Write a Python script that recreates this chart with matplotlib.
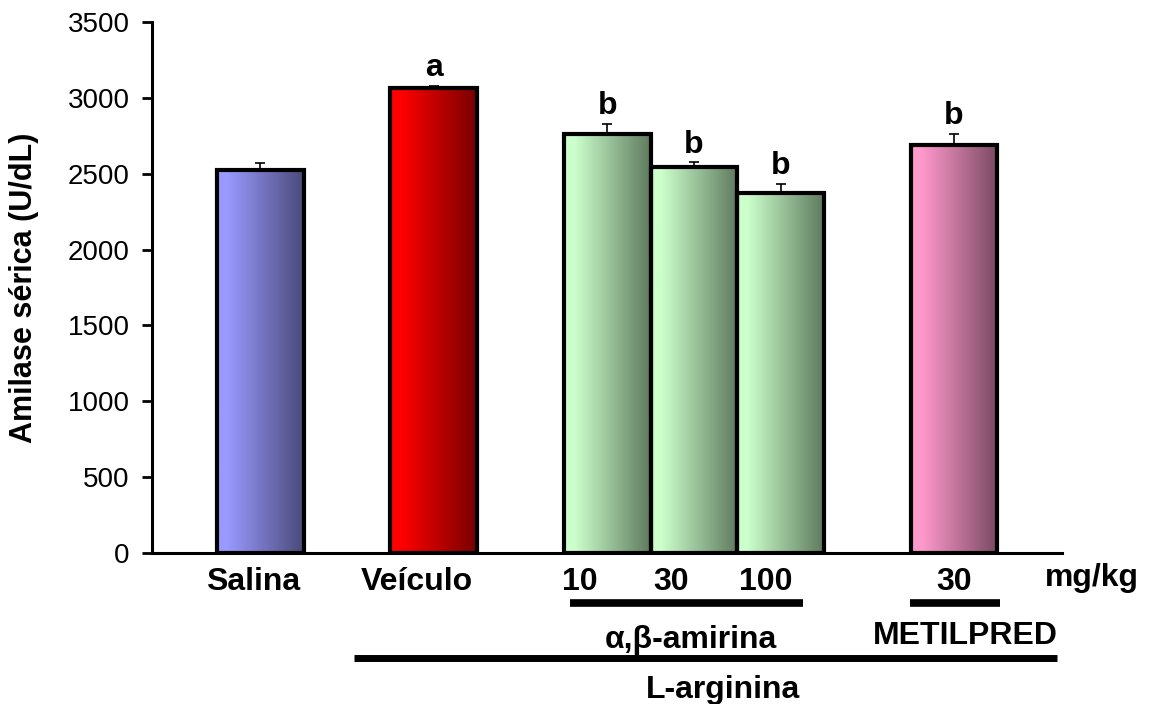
import numpy as np
import matplotlib
matplotlib.use("Agg")
import matplotlib.pyplot as plt
from matplotlib.colors import LinearSegmentedColormap

plt.rcParams['font.family'] = ['Liberation Sans', 'DejaVu Sans']

# ---- data ----
groups = ["Salina", "Veículo", "10", "30", "100", "30"]
values = [2525, 3065, 2760, 2545, 2375, 2690]
errors = [45, 15, 70, 30, 60, 75]
letters = ["", "a", "b", "b", "b", "b"]
positions = [0, 2, 4, 5, 6, 8]
light_colors = ["#9999FF", "#FF0000", "#CCFFCC", "#CCFFCC", "#CCFFCC", "#FF99CC"]
dark_colors = ["#4A4A7A", "#780000", "#5E7A5E", "#5E7A5E", "#5E7A5E", "#7A4A62"]

fig = plt.figure(figsize=(11.49, 7.04), dpi=100)
ax = fig.add_axes([0.1323, 0.2145, 0.792, 0.75425])

bars = ax.bar(positions, values, width=1.0, facecolor="none",
              edgecolor="black", linewidth=3.0, zorder=3)

grad = np.linspace(0, 1, 256).reshape(1, -1)
for b, c1, c2 in zip(bars, light_colors, dark_colors):
    cmap = LinearSegmentedColormap.from_list(
        "g", [(0.0, c1), (0.12, c1), (1.0, c2)], N=256)
    x0 = b.get_x()
    w = b.get_width()
    h = b.get_height()
    im = ax.imshow(grad, cmap=cmap, aspect="auto",
                   extent=(x0, x0 + w, 0, h), zorder=2, interpolation="bilinear")
    im.set_clip_path(b)

ax.errorbar(positions, values, yerr=[np.zeros(len(errors)), errors],
            fmt="none", ecolor="black", elinewidth=1.2, capsize=3.5,
            capthick=1.2, zorder=2.5)

for p, v, e, l in zip(positions, values, errors, letters):
    if l:
        ax.annotate(l, (p, v + e), xytext=(0, 7), textcoords="offset points",
                    ha="center", va="baseline", fontsize=23, fontweight="bold")

ax.set_xlim(-1.25, 9.245)
ax.set_ylim(0, 3500)
ax.set_yticks(np.arange(0, 3501, 500))
ax.tick_params(axis="y", direction="out", length=7, width=2, labelsize=20, pad=9)
ax.set_xticks([])
for s in ["top", "right"]:
    ax.spines[s].set_visible(False)
for s in ["left", "bottom"]:
    ax.spines[s].set_linewidth(2.2)

ax.set_ylabel("Amilase sérica (U/dL)", fontsize=22, fontweight="bold")
ax.yaxis.set_label_coords(-0.124, 0.5)

tr = ax.get_xaxis_transform()
txt_kw = dict(transform=tr, ha="center", va="center", fontsize=23,
              fontweight="bold", clip_on=False)

# category / dose labels
label_x = [-0.09, 1.81, 3.68, 4.74, 5.83, 8.0]
for x, g in zip(label_x, groups):
    ax.text(x, -0.0546, g, **txt_kw)
ax.text(9.59, -0.047, "mg/kg", **txt_kw)

# group lines and labels
ax.plot([3.57, 6.26], [-0.094, -0.094], color="black", lw=5.5,
        transform=tr, clip_on=False, solid_capstyle="butt")
ax.plot([7.49, 8.53], [-0.094, -0.094], color="black", lw=5.5,
        transform=tr, clip_on=False, solid_capstyle="butt")
ax.text(4.96, -0.164, "α,β-amirina", **txt_kw)
ax.text(8.13, -0.157, "METILPRED", **txt_kw)
ax.plot([1.08, 9.19], [-0.198, -0.198], color="black", lw=5,
        transform=tr, clip_on=False, solid_capstyle="butt")
ax.text(5.33, -0.258, "L-arginina", **txt_kw)

fig.savefig("out.png", dpi=100)
